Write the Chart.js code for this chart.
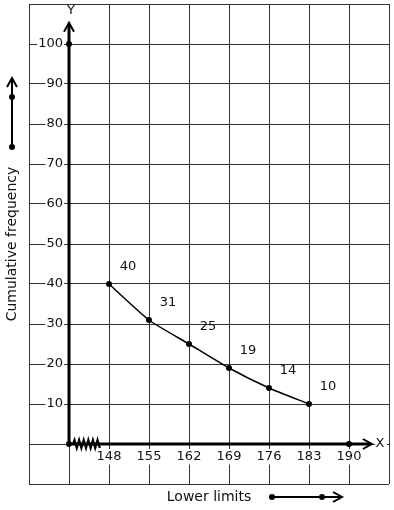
<!DOCTYPE html>
<html>
<head>
<meta charset="utf-8">
<script src="https://cdn.jsdelivr.net/npm/chart.js@4"></script>
<style>
  html, body { margin: 0; padding: 0; background: #fff; }
</style>
</head>
<body>
<canvas id="ogive" width="394" height="510"></canvas>
<script>
// Ogive (less than / more than type) - lower limits vs cumulative frequency
const lowerLimits = [148, 155, 162, 169, 176, 183];
const cumFreq = [40, 31, 25, 19, 14, 10];
const axisDotsX = [141, 141, 190];
const axisDotsY = [100, 0, 0];
const xTickLabels = [148, 155, 162, 169, 176, 183, 190];
const yTickLabels = [10, 20, 30, 40, 50, 60, 70, 80, 90, 100];

const FONT = 'DejaVu Sans';
const INK = '#111';

function chevron(ctx, x, y, dir) {
  // open arrow head pointing up ('up') or right ('right')
  ctx.beginPath();
  if (dir === 'up') {
    ctx.moveTo(x - 5, y + 9); ctx.lineTo(x, y); ctx.lineTo(x + 5, y + 9);
  } else {
    ctx.moveTo(x - 9, y - 5); ctx.lineTo(x, y); ctx.lineTo(x - 9, y + 5);
  }
  ctx.stroke();
}

function dot(ctx, x, y) {
  ctx.beginPath();
  ctx.arc(x, y, 3, 0, Math.PI * 2);
  ctx.fill();
}

// scales sit inside the plot, so they should not push the chart area in
function noScalePadding(scale) {
  scale.paddingTop = 0;
  scale.paddingBottom = 0;
  scale.paddingLeft = 0;
  scale.paddingRight = 0;
}

// white box only behind ticks that actually show a label
const backdropFor = labels => c => labels.includes(c.tick.value) ? '#fff' : 'rgba(0,0,0,0)';

const decorations = {
  id: 'decorations',
  beforeDatasetsDraw(chart) {
    const ctx = chart.ctx;
    const sx = chart.scales.x, sy = chart.scales.y;
    const ox = sx.getPixelForValue(141), oy = sy.getPixelForValue(0);
    const top = sy.getPixelForValue(105.3);
    const end = sx.getPixelForValue(194);
    ctx.save();
    ctx.strokeStyle = '#000';
    ctx.lineCap = 'butt';

    // Y / X letters with white backing
    ctx.font = '13px ' + FONT;
    ctx.textAlign = 'center';
    ctx.textBaseline = 'middle';
    ctx.fillStyle = '#fff';
    ctx.fillRect(ox - 4, chart.chartArea.top + 1, 12, top - chart.chartArea.top - 2);
    ctx.fillRect(end + 3, oy - 6, 12, 12);
    ctx.fillStyle = INK;
    ctx.fillText('Y', ox + 2, 11);
    ctx.fillText('X', end + 8, oy);

    // thick axes
    ctx.lineWidth = 3;
    ctx.beginPath();
    ctx.moveTo(ox, oy); ctx.lineTo(ox, top + 1);
    ctx.moveTo(ox, oy); ctx.lineTo(end - 1, oy);
    ctx.stroke();
    ctx.lineWidth = 2;
    chevron(ctx, ox, top, 'up');
    chevron(ctx, end, oy, 'right');

    // axis break (kink) near origin
    ctx.lineWidth = 2.2;
    ctx.beginPath();
    ctx.moveTo(ox + 4, oy);
    let up = true;
    for (let x = ox + 5.5; x <= ox + 31; x += 2.3) {
      ctx.lineTo(x, oy + (up ? -4 : 4));
      up = !up;
    }
    ctx.stroke();

    // axis titles with arrows
    ctx.fillStyle = INK;
    ctx.font = '14px ' + FONT;
    ctx.save();
    ctx.translate(12, 244);
    ctx.rotate(-Math.PI / 2);
    ctx.fillText('Cumulative frequency', 0, 0);
    ctx.restore();
    ctx.fillText('Lower limits', 209, 497);

    ctx.fillStyle = '#000';
    ctx.lineWidth = 2;
    ctx.beginPath();
    ctx.moveTo(12, 147); ctx.lineTo(12, 79);
    ctx.stroke();
    chevron(ctx, 12, 78, 'up');
    dot(ctx, 12, 147); dot(ctx, 12, 97);

    ctx.beginPath();
    ctx.moveTo(272, 497); ctx.lineTo(341, 497);
    ctx.stroke();
    chevron(ctx, 342, 497, 'right');
    dot(ctx, 272, 497); dot(ctx, 322, 497);
    ctx.restore();
  },
  afterDatasetsDraw(chart) {
    const ctx = chart.ctx;
    const pts = chart.getDatasetMeta(0).data;
    ctx.save();
    ctx.font = '13px ' + FONT;
    ctx.fillStyle = INK;
    ctx.textAlign = 'center';
    ctx.textBaseline = 'middle';
    pts.forEach((p, i) => ctx.fillText(String(cumFreq[i]), p.x + 19, p.y - 17));
    ctx.restore();
  }
};

const tickFont = { family: FONT, size: 13 };

new Chart(document.getElementById('ogive'), {
  type: 'line',
  data: {
    datasets: [
      {
        data: lowerLimits.map((x, i) => ({ x: x, y: cumFreq[i] })),
        borderColor: '#000',
        borderWidth: 1.5,
        pointRadius: 3,
        pointBackgroundColor: '#000',
        pointBorderWidth: 0,
        tension: 0.2
      },
      {
        data: axisDotsX.map((x, i) => ({ x: x, y: axisDotsY[i] })),
        showLine: false,
        pointRadius: 3,
        pointBackgroundColor: '#000',
        pointBorderWidth: 0
      }
    ]
  },
  options: {
    responsive: false,
    devicePixelRatio: 1,
    animation: false,
    layout: { padding: { left: 29, top: 4, right: 5, bottom: 26 } },
    plugins: { legend: { display: false }, tooltip: { enabled: false } },
    scales: {
      x: {
        type: 'linear',
        min: 134,
        max: 197,
        position: { y: 0 },
        afterFit: noScalePadding,
        border: { display: false },
        grid: { color: '#333', lineWidth: 1, drawTicks: false },
        ticks: {
          stepSize: 7,
          autoSkip: false,
          maxRotation: 0,
          font: tickFont,
          color: INK,
          padding: 5,
          showLabelBackdrop: true,
          backdropColor: backdropFor(xTickLabels),
          backdropPadding: { top: 0, bottom: 0, left: 1, right: 1 },
          callback: v => xTickLabels.includes(v) ? String(v) : ''
        }
      },
      y: {
        type: 'linear',
        min: -10,
        max: 110,
        // labels end a few px left of the axis line at 141
        position: { x: 139.95 },
        afterFit: noScalePadding,
        border: { display: false },
        grid: { color: '#333', lineWidth: 1, drawTicks: false },
        ticks: {
          stepSize: 10,
          autoSkip: false,
          font: tickFont,
          color: INK,
          padding: 0,
          showLabelBackdrop: true,
          backdropColor: backdropFor(yTickLabels),
          backdropPadding: { top: 0, bottom: 0, left: 1, right: 1 },
          callback: v => yTickLabels.includes(v) ? String(v) : ''
        }
      }
    }
  },
  plugins: [decorations]
});
</script>
</body>
</html>
